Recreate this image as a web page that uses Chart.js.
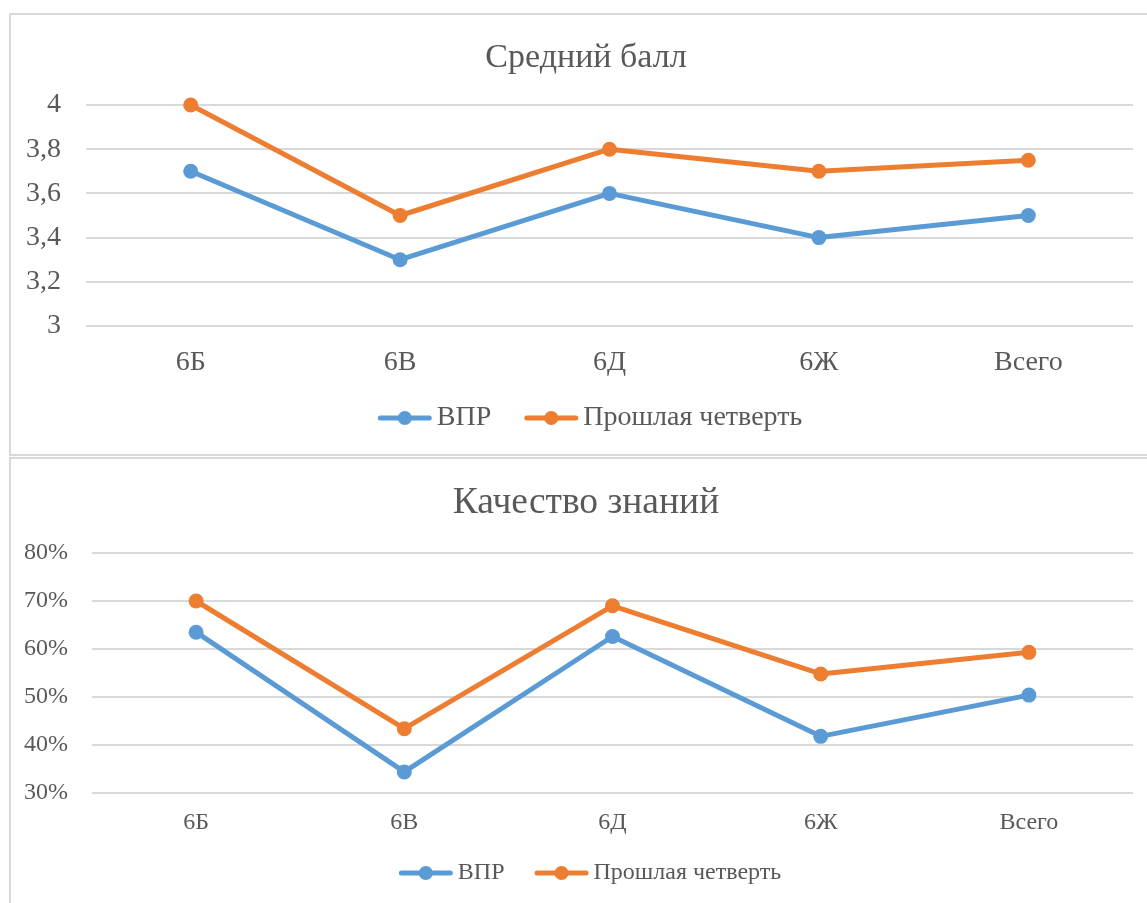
<!DOCTYPE html>
<html>
<head>
<meta charset="utf-8">
<script src="https://cdn.jsdelivr.net/npm/chart.js@4/dist/chart.umd.min.js"></script>
<style>
  html, body { margin: 0; padding: 0; background: #ffffff; overflow: hidden; width: 1147px; height: 903px; }
  .box { position: absolute; border: 2px solid #d9d9d9; background: #fff; }
  #box1 { left: 9px; top: 13px; width: 1150px; height: 439px; }
  #box2 { left: 9px; top: 457px; width: 1150px; height: 450px; }
  canvas { display: block; }
</style>
</head>
<body>
<div class="box" id="box1"><canvas id="c1" width="1150" height="439"></canvas></div>
<div class="box" id="box2"><canvas id="c2" width="1150" height="450"></canvas></div>
<script>
// ---- data ----
const categories = ['6Б', '6В', '6Д', '6Ж', 'Всего'];
const seriesNames = ['ВПР', 'Прошлая четверть'];
const avgVpr  = [3.7, 3.3, 3.6, 3.4, 3.5];
const avgPrev = [4.0, 3.5, 3.8, 3.7, 3.75];
const qualVpr  = [63.5, 34.4, 62.6, 41.8, 50.4];
const qualPrev = [70.0, 43.4, 69.0, 54.8, 59.3];
const avgTicks = { min: 3, max: 4, step: 0.2 };
const qualTicks = { min: 30, max: 80, step: 10 };
const titles = ['Средний балл', 'Качество знаний'];

// ---- styling ----
const FONT = "'Liberation Serif', 'Times New Roman', serif";
const TEXT = '#595959';
const GRID = '#d9d9d9';
const BLUE = '#5B9BD5';
const ORANGE = '#ED7D31';

const lineLegend = {
  id: 'lineLegend',
  afterDraw(chart, args, opts) {
    const ctx = chart.ctx;
    ctx.save();
    ctx.font = opts.size + 'px ' + FONT;
    const items = chart.data.datasets.map(ds => ({ text: ds.label, color: ds.borderColor, w: ctx.measureText(ds.label).width }));
    const total = items.reduce((s, it) => s + opts.lineLen + opts.gapText + it.w, 0) + opts.gapItem * (items.length - 1);
    let x = chart.width / 2 + opts.shift - total / 2;
    const y = chart.height - opts.fromBottom;
    items.forEach(it => {
      ctx.strokeStyle = it.color;
      ctx.lineWidth = 5;
      ctx.lineCap = 'round';
      ctx.beginPath();
      ctx.moveTo(x + 2.5, y);
      ctx.lineTo(x + opts.lineLen - 2.5, y);
      ctx.stroke();
      ctx.fillStyle = it.color;
      ctx.beginPath();
      ctx.arc(x + opts.lineLen / 2, y, 7, 0, Math.PI * 2);
      ctx.fill();
      ctx.fillStyle = TEXT;
      ctx.textBaseline = 'middle';
      ctx.textAlign = 'left';
      ctx.fillText(it.text, x + opts.lineLen + opts.gapText, y);
      x += opts.lineLen + opts.gapText + it.w + opts.gapItem;
    });
    ctx.restore();
  }
};

function makeChart(id, cfg) {
  const ds = (label, data, color) => ({
    label, data, clip: false,
    borderColor: color, backgroundColor: color,
    pointBackgroundColor: color, pointBorderColor: color,
    pointBorderWidth: 0, pointRadius: 7.5, pointHoverRadius: 7.5,
    borderWidth: 5, tension: 0, borderCapStyle: 'round', borderJoinStyle: 'round'
  });
  return new Chart(document.getElementById(id), {
    type: 'line',
    data: {
      labels: categories,
      datasets: [ds(seriesNames[0], cfg.a, BLUE), ds(seriesNames[1], cfg.b, ORANGE)]
    },
    plugins: [lineLegend],
    options: {
      responsive: false,
      animation: false,
      devicePixelRatio: 1,
      layout: { padding: { left: 0, right: 0, top: 0, bottom: cfg.padBottom } },
      plugins: {
        legend: { display: false },
        tooltip: { enabled: false },
        title: {
          display: true, text: cfg.title, color: TEXT,
          font: { family: FONT, size: cfg.titleSize, weight: 'normal', lineHeight: 1.2 },
          padding: { top: cfg.titleTop, bottom: cfg.titleBottom }
        },
        lineLegend: cfg.legend
      },
      scales: {
        x: {
          offset: true,
          grid: { display: false, drawTicks: false },
          border: { display: false },
          ticks: { color: TEXT, font: { family: FONT, size: cfg.fontSize, lineHeight: 1.2 }, padding: cfg.xPad, maxRotation: 0 }
        },
        y: {
          min: cfg.ticks.min, max: cfg.ticks.max,
          afterFit(scale) { scale.width = cfg.yWidth; },
          grid: { color: GRID, lineWidth: 2, drawTicks: false },
          border: { display: false },
          ticks: {
            stepSize: cfg.ticks.step, autoSkip: false,
            color: TEXT, font: { family: FONT, size: cfg.fontSize }, padding: cfg.yPad,
            callback: cfg.fmt
          }
        },
        yRight: {
          position: 'right',
          min: cfg.ticks.min, max: cfg.ticks.max,
          afterFit(scale) { scale.width = 28; },
          grid: { display: false, drawTicks: false },
          border: { display: false },
          ticks: { display: false }
        }
      }
    }
  });
}

makeChart('c1', {
  a: avgVpr, b: avgPrev, title: titles[0], ticks: avgTicks,
  titleSize: 34, titleTop: 22.6, titleBottom: 26.6,
  fontSize: 28, xPad: 20.2, yPad: 25, yWidth: 75, padBottom: 54,
  fmt: v => (Math.round(v * 10) / 10).toString().replace('.', ','),
  legend: { size: 28, lineLen: 54, gapText: 5, gapItem: 33, shift: 4, fromBottom: 36 }
});

makeChart('c2', {
  a: qualVpr, b: qualPrev, title: titles[1], ticks: qualTicks,
  titleSize: 37.5, titleTop: 21.5, titleBottom: 27.5,
  fontSize: 24, xPad: 15.6, yPad: 24, yWidth: 81, padBottom: 56,
  fmt: v => Math.round(v) + '%',
  legend: { size: 24, lineLen: 54, gapText: 5, gapItem: 30, shift: 4, fromBottom: 36 }
});
</script>
</body>
</html>
